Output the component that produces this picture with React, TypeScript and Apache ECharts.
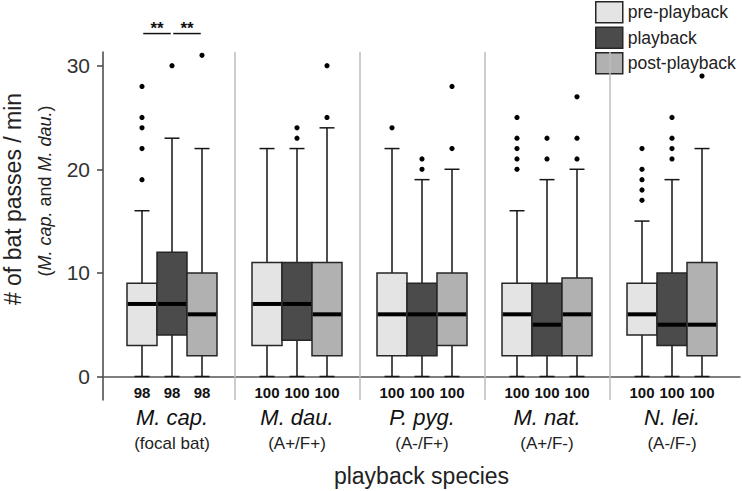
import React, { useEffect, useRef } from "react";
import * as echarts from "echarts";

const FONT = "'Liberation Sans', Arial, Helvetica, sans-serif";

const species = ["M. cap.", "M. dau.", "P. pyg.", "M. nat.", "N. lei."];
const speciesNotes = ["(focal bat)", "(A+/F+)", "(A-/F+)", "(A+/F-)", "(A-/F-)"];
const periods = ["pre-playback", "playback", "post-playback"];
const periodColors = ["#e4e4e4", "#4b4b4b", "#b1b1b1"];

// per species: [min, Q1, median, Q3, max]
const preStats = [
  [0, 3, 7, 9, 16],
  [0, 3, 7, 11, 22],
  [0, 2, 6, 10, 22],
  [0, 2, 6, 9, 16],
  [0, 4, 6, 9, 15],
];
const playStats = [
  [0, 4, 7, 12, 23],
  [0, 3.5, 7, 11, 22],
  [0, 2, 6, 9, 19],
  [0, 2, 5, 9, 19],
  [0, 3, 5, 10, 19],
];
const postStats = [
  [0, 2, 6, 10, 22],
  [0, 2, 6, 11, 24],
  [0, 3, 6, 10, 20],
  [0, 2, 6, 9.5, 20],
  [0, 2, 5, 11, 22],
];

const preOutliers = [[28, 25, 24, 22, 19], [], [24], [25, 23, 22, 21, 20], [22, 20, 19, 18, 17]];
const playOutliers = [[30], [24, 23], [21, 20], [23, 21], [25, 23, 22, 21]];
const postOutliers = [[31], [30, 25], [28, 22], [27, 23, 21], [29]];

// sample sizes per species: [pre, playback, post]
const sampleSizes = [
  [98, 98, 98],
  [100, 100, 100],
  [100, 100, 100],
  [100, 100, 100],
  [100, 100, 100],
];

const yTicks = [0, 10, 20, 30];
const separators = [1.5, 2.5, 3.5, 4.5];
const sigPairs = [
  { species: 1, from: 0, to: 1, label: "**" },
  { species: 1, from: 1, to: 2, label: "**" },
];
const sigLevel = 33.1;
const nLabelLevel = -1.5;

const statsByPeriod = [preStats, playStats, postStats];
const outliersByPeriod = [preOutliers, playOutliers, postOutliers];
const boxOffsets = [-0.24, 0, 0.24];
const BOX_HALF = 0.12;
const CAP_HALF = 0.06;

function makeBoxRenderer(p: number) {
  return (params: any, api: any) => {
    const i = params.dataIndex;
    const x = api.value(0) + boxOffsets[p];
    const mn = api.value(1);
    const q1 = api.value(2);
    const md = api.value(3);
    const q3 = api.value(4);
    const mx = api.value(5);
    const c = (xx: number, yy: number) => api.coord([xx, yy]);
    const cx = c(x, 0)[0];
    const yMin = c(x, mn)[1];
    const yQ1 = c(x, q1)[1];
    const yMd = c(x, md)[1];
    const yQ3 = c(x, q3)[1];
    const yMax = c(x, mx)[1];
    const xl = c(x - BOX_HALF, 0)[0];
    const xr = c(x + BOX_HALF, 0)[0];
    const cl = c(x - CAP_HALF, 0)[0];
    const cr = c(x + CAP_HALF, 0)[0];
    const lineStyle = { stroke: "#151515", lineWidth: 1.5 };
    const children: any[] = [
      { type: "line", shape: { x1: cx, y1: yQ3, x2: cx, y2: yMax }, style: lineStyle },
      { type: "line", shape: { x1: cx, y1: yQ1, x2: cx, y2: yMin }, style: lineStyle },
      { type: "line", shape: { x1: cl, y1: yMax, x2: cr, y2: yMax }, style: lineStyle },
      { type: "line", shape: { x1: cl, y1: yMin, x2: cr, y2: yMin }, style: lineStyle },
      {
        type: "rect",
        shape: { x: xl, y: yQ3, width: xr - xl, height: yQ1 - yQ3 },
        style: { fill: periodColors[p], stroke: "#262626", lineWidth: 1.5 },
      },
      {
        type: "line",
        shape: { x1: xl + 0.75, y1: yMd, x2: xr - 0.75, y2: yMd },
        style: { stroke: "#000", lineWidth: 4 },
      },
    ];
    outliersByPeriod[p][i].forEach((v: number) => {
      const pt = c(x, v);
      children.push({ type: "circle", shape: { cx: pt[0], cy: pt[1], r: 2.6 }, style: { fill: "#000" } });
    });
    children.push({
      type: "text",
      x: cx,
      y: c(x, nLabelLevel)[1],
      style: {
        text: String(sampleSizes[i][p]),
        fontSize: 15,
        fontWeight: "bold",
        fontFamily: FONT,
        fill: "#111",
        align: "center",
        verticalAlign: "middle",
      },
    });
    return { type: "group", children };
  };
}

function sigRenderer(params: any, api: any) {
  const sp = api.value(0);
  const from = api.value(1);
  const to = api.value(2);
  const x1 = api.coord([sp + boxOffsets[from] + 0.01, sigLevel])[0];
  const x2 = api.coord([sp + boxOffsets[to] - 0.01, sigLevel])[0];
  const y = api.coord([sp, sigLevel])[1];
  return {
    type: "group",
    children: [
      { type: "line", shape: { x1, y1: y, x2, y2: y }, style: { stroke: "#111", lineWidth: 1.5 } },
      {
        type: "text",
        x: (x1 + x2) / 2,
        y: y - 5,
        style: {
          text: sigPairs[params.dataIndex].label,
          fontSize: 17,
          fontWeight: "bold",
          fontFamily: FONT,
          fill: "#111",
          align: "center",
          verticalAlign: "middle",
        },
      },
    ],
  };
}

export default function App() {
  const ref = useRef<HTMLDivElement>(null);
  useEffect(() => {
    document.body.style.margin = "0";
    if (!ref.current) return;
    const chart = echarts.init(ref.current, null, { renderer: "svg" });
    const boxSeries = periods.map((name, p) => ({
      type: "custom",
      name,
      clip: false,
      z: 3,
      silent: true,
      itemStyle: { color: periodColors[p], borderColor: "#262626", borderWidth: 1.5 },
      encode: { x: 0, y: [1, 2, 3, 4, 5] },
      data: statsByPeriod[p].map((s, i) => [i + 1, ...s]),
      renderItem: makeBoxRenderer(p),
    }));
    const option: any = {
      animation: false,
      backgroundColor: "#fff",
      textStyle: { fontFamily: FONT },
      grid: { left: 103, right: 2, top: 52, bottom: 91, containLabel: false, outerBoundsMode: "none" },
      legend: {
        orient: "vertical",
        left: 595,
        top: 1,
        itemWidth: 27,
        itemHeight: 21,
        itemGap: 3,
        padding: [0, 4, 0, 0],
        backgroundColor: "#fff",
        selectedMode: false,
        z: 2,
        textStyle: { fontSize: 17.5, color: "#222", fontFamily: FONT },
        data: periods.map((name, p) => ({
          name,
          icon: "rect",
          itemStyle: { color: periodColors[p], borderColor: "#262626", borderWidth: 1.5 },
        })),
      },
      xAxis: {
        type: "value",
        min: 0.448,
        max: 5.544,
        axisLine: { show: true, lineStyle: { color: "#555", width: 1.5 } },
        axisTick: { show: false },
        splitLine: { show: false },
        axisLabel: {
          customValues: [1, 2, 3, 4, 5],
          margin: 3,
          formatter: (v: number) => `{sp|${species[Math.round(v) - 1]}}\n{sub|${speciesNotes[Math.round(v) - 1]}}`,
          rich: {
            sp: { fontSize: 22, fontStyle: "italic", lineHeight: 28, color: "#111", fontFamily: FONT },
            sub: { fontSize: 17, lineHeight: 24, color: "#222", fontFamily: FONT },
          },
        },
        name: "playback species",
        nameLocation: "middle",
        nameGap: 64,
        nameTextStyle: { fontSize: 23, color: "#222", fontFamily: FONT },
      },
      yAxis: {
        type: "value",
        min: -2.27,
        max: 31.32,
        axisLine: { show: true, lineStyle: { color: "#444", width: 1.5 } },
        axisTick: { show: true, customValues: yTicks, length: 6, lineStyle: { color: "#444", width: 1.5 } },
        axisLabel: { customValues: yTicks, fontSize: 21, color: "#333", margin: 13, fontFamily: FONT },
        splitLine: { show: false },
      },
      graphic: [
        {
          type: "text",
          x: 13,
          y: 199,
          rotation: Math.PI / 2,
          style: {
            text: "# of bat passes / min",
            fontSize: 23,
            fontFamily: FONT,
            fill: "#222",
            align: "center",
            verticalAlign: "middle",
          },
        },
        {
          type: "text",
          x: 45,
          y: 191,
          rotation: Math.PI / 2,
          style: {
            text: "{n|(}{i|M. cap.}{n| and }{i|M. dau.}{n|)}",
            fontSize: 18,
            fontFamily: FONT,
            fill: "#222",
            align: "center",
            verticalAlign: "middle",
            rich: {
              n: { fontSize: 18, fontFamily: FONT, fill: "#222" },
              i: { fontSize: 18, fontStyle: "italic", fontFamily: FONT, fill: "#222" },
            },
          },
        },
      ],
      series: [
        {
          type: "custom",
          name: "separators",
          clip: false,
          z: 1,
          silent: true,
          encode: { x: 0, y: 1 },
          data: [],
          renderItem: () => ({ type: "group", children: [] }),
          markLine: {
            silent: true,
            symbol: ["none", "none"],
            label: { show: false },
            emphasis: { disabled: true },
            lineStyle: { color: "#bdbdbd", width: 1.5, type: "solid" },
            data: separators.map((v) => ({ xAxis: v })),
          },
        },
        ...boxSeries,
        {
          type: "custom",
          name: "significance",
          clip: false,
          z: 4,
          silent: true,
          encode: { x: 0, y: 1 },
          data: sigPairs.map((s) => [s.species, s.from, s.to]),
          renderItem: sigRenderer,
        },
      ],
    };
    chart.setOption(option);
    return () => chart.dispose();
  }, []);
  return <div ref={ref} style={{ width: 742, height: 491 }} />;
}
